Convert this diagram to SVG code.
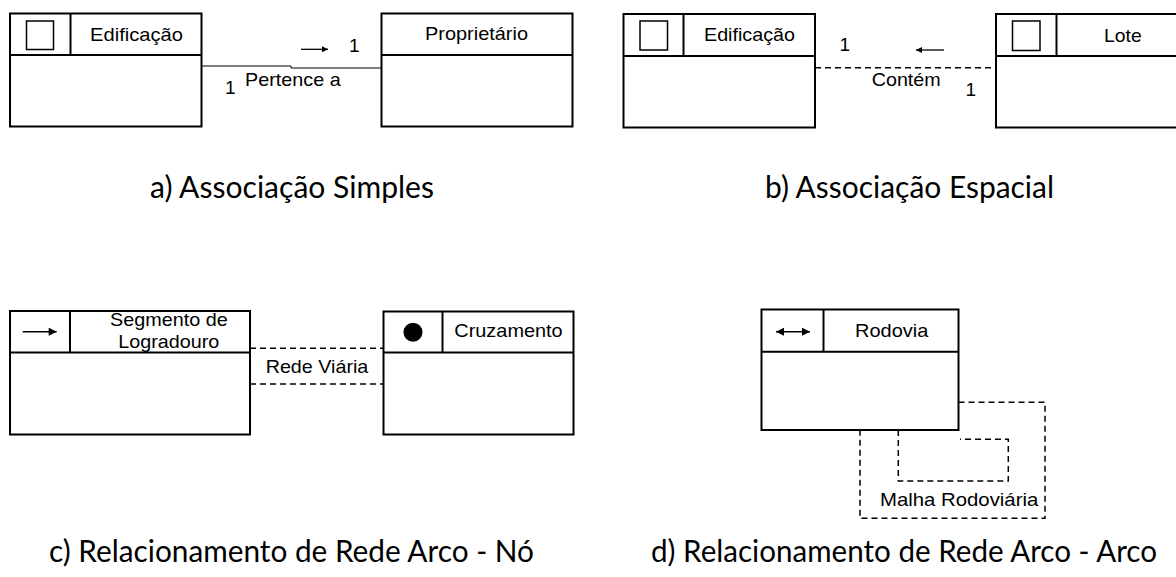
<svg xmlns="http://www.w3.org/2000/svg" width="1176" height="577" viewBox="0 0 1176 577">
<style>
.box{fill:#fff;stroke:#000;stroke-width:2}
.ln{stroke:#000;stroke-width:2;fill:none}
.sq{fill:none;stroke:#000;stroke-width:1.5}
.lbl{font-family:"Liberation Sans",Arial,sans-serif;font-size:19px;fill:#000}
.cap{font-family:Lato,"Open Sans",sans-serif;font-size:30px;fill:#000}
.conn{fill:none;stroke:#000;stroke-width:1}
.dash{fill:none;stroke:#000;stroke-width:1.5;stroke-dasharray:6 4}
</style>
<defs>
<marker id="ah" viewBox="0 0 10 10" refX="10" refY="5" markerWidth="10" markerHeight="6" markerUnits="userSpaceOnUse" orient="auto-start-reverse">
<path d="M0,0 L10,5 L0,10 z" fill="#000"/>
</marker>
<marker id="ah2" viewBox="0 0 10 10" refX="10" refY="5" markerWidth="10" markerHeight="8" markerUnits="userSpaceOnUse" orient="auto-start-reverse">
<path d="M0,0 L10,5 L0,10 z" fill="#000"/>
</marker>
</defs>

<g id="connectors">
<path class="conn" d="M201.5,66 H291 V68 H381.5"/>
<line class="dash" x1="815" y1="67.7" x2="996" y2="67.7"/>
<line class="dash" x1="250" y1="348.3" x2="383.5" y2="348.3"/>
<line class="dash" x1="250" y1="384" x2="383.5" y2="384"/>
<path class="dash" d="M958.5,402.3 H1045 V518.3 H860 V430"/>
<path class="dash" d="M898.3,430 V481 H1008.3 V439.3 H960"/>
</g>

<g id="labels">
<line x1="301" y1="49.3" x2="328" y2="49.3" stroke="#000" stroke-width="1.3" marker-end="url(#ah)"/>
<text class="lbl" x="349" y="52">1</text>
<text class="lbl" x="225" y="94.3">1</text>
<text class="lbl" x="245" y="86" textLength="95.7" lengthAdjust="spacingAndGlyphs">Pertence a</text>
<line x1="944" y1="50" x2="916" y2="50" stroke="#000" stroke-width="1.3" marker-end="url(#ah)"/>
<text class="lbl" x="839.5" y="50.7">1</text>
<text class="lbl" x="871.7" y="86" textLength="69" lengthAdjust="spacingAndGlyphs">Contém</text>
<text class="lbl" x="965.5" y="95.7">1</text>
<text class="lbl" x="265.7" y="372.7" textLength="102.6" lengthAdjust="spacingAndGlyphs">Rede Viária</text>
<text class="lbl" x="880" y="506" textLength="158.3" lengthAdjust="spacingAndGlyphs">Malha Rodoviária</text>
</g>

<g id="edificacao-a">
<rect class="box" x="10" y="13.5" width="191.5" height="113"/>
<line class="ln" x1="10" y1="55" x2="201.5" y2="55"/>
<line class="ln" x1="70.5" y1="13.5" x2="70.5" y2="55"/>
<rect class="sq" x="26.5" y="21" width="27" height="28.5"/>
<text class="lbl" x="90" y="40.7" textLength="93" lengthAdjust="spacingAndGlyphs">Edificação</text>
</g>

<g id="proprietario">
<rect class="box" x="381.5" y="13.5" width="191" height="113"/>
<line class="ln" x1="381.5" y1="55" x2="572.5" y2="55"/>
<text class="lbl" x="425" y="40" textLength="103" lengthAdjust="spacingAndGlyphs">Proprietário</text>
</g>

<g id="edificacao-b">
<rect class="box" x="623.5" y="14" width="191.5" height="113.5"/>
<line class="ln" x1="623.5" y1="56" x2="815" y2="56"/>
<line class="ln" x1="683.5" y1="14" x2="683.5" y2="56"/>
<rect class="sq" x="640" y="21" width="27.5" height="29"/>
<text class="lbl" x="704" y="41" textLength="91" lengthAdjust="spacingAndGlyphs">Edificação</text>
</g>

<g id="lote">
<rect class="box" x="996" y="14" width="200" height="113.5"/>
<line class="ln" x1="996" y1="56" x2="1196" y2="56"/>
<line class="ln" x1="1056.5" y1="14" x2="1056.5" y2="56"/>
<rect class="sq" x="1012.5" y="21" width="27.5" height="29.5"/>
<text class="lbl" x="1104" y="41.5" textLength="37.7" lengthAdjust="spacingAndGlyphs">Lote</text>
</g>

<g id="segmento">
<rect class="box" x="10" y="311" width="240" height="123.5"/>
<line class="ln" x1="10" y1="352.5" x2="250" y2="352.5"/>
<line class="ln" x1="70" y1="311" x2="70" y2="352.5"/>
<line x1="22.7" y1="331.7" x2="56.7" y2="331.7" stroke="#000" stroke-width="1.5" marker-end="url(#ah2)"/>
<text class="lbl" x="110" y="326" textLength="117.7" lengthAdjust="spacingAndGlyphs">Segmento de</text>
<text class="lbl" x="118.3" y="348.3" textLength="101" lengthAdjust="spacingAndGlyphs">Logradouro</text>
</g>

<g id="cruzamento">
<rect class="box" x="383.5" y="311.5" width="190" height="123"/>
<line class="ln" x1="383.5" y1="352.5" x2="573.5" y2="352.5"/>
<line class="ln" x1="442.5" y1="311.5" x2="442.5" y2="352.5"/>
<circle cx="413" cy="332.3" r="9.5" fill="#000"/>
<text class="lbl" x="454.3" y="337.3" textLength="108.4" lengthAdjust="spacingAndGlyphs">Cruzamento</text>
</g>

<g id="rodovia">
<rect class="box" x="761.5" y="309.5" width="197" height="120.5"/>
<line class="ln" x1="761.5" y1="351.7" x2="958.5" y2="351.7"/>
<line class="ln" x1="823.5" y1="309.5" x2="823.5" y2="351.7"/>
<line x1="776" y1="331.7" x2="810" y2="331.7" stroke="#000" stroke-width="1.5" marker-start="url(#ah2)" marker-end="url(#ah2)"/>
<text class="lbl" x="855" y="337.3" textLength="73.3" lengthAdjust="spacingAndGlyphs">Rodovia</text>
</g>

<g id="captions">
<text class="cap" x="150" y="198" textLength="284" lengthAdjust="spacingAndGlyphs">a) Associação Simples</text>
<text class="cap" x="765" y="198" textLength="289" lengthAdjust="spacingAndGlyphs">b) Associação Espacial</text>
<text class="cap" x="49" y="562" textLength="485" lengthAdjust="spacingAndGlyphs">c) Relacionamento de Rede Arco - Nó</text>
<text class="cap" x="651" y="562" textLength="506" lengthAdjust="spacingAndGlyphs">d) Relacionamento de Rede Arco - Arco</text>
</g>
</svg>
